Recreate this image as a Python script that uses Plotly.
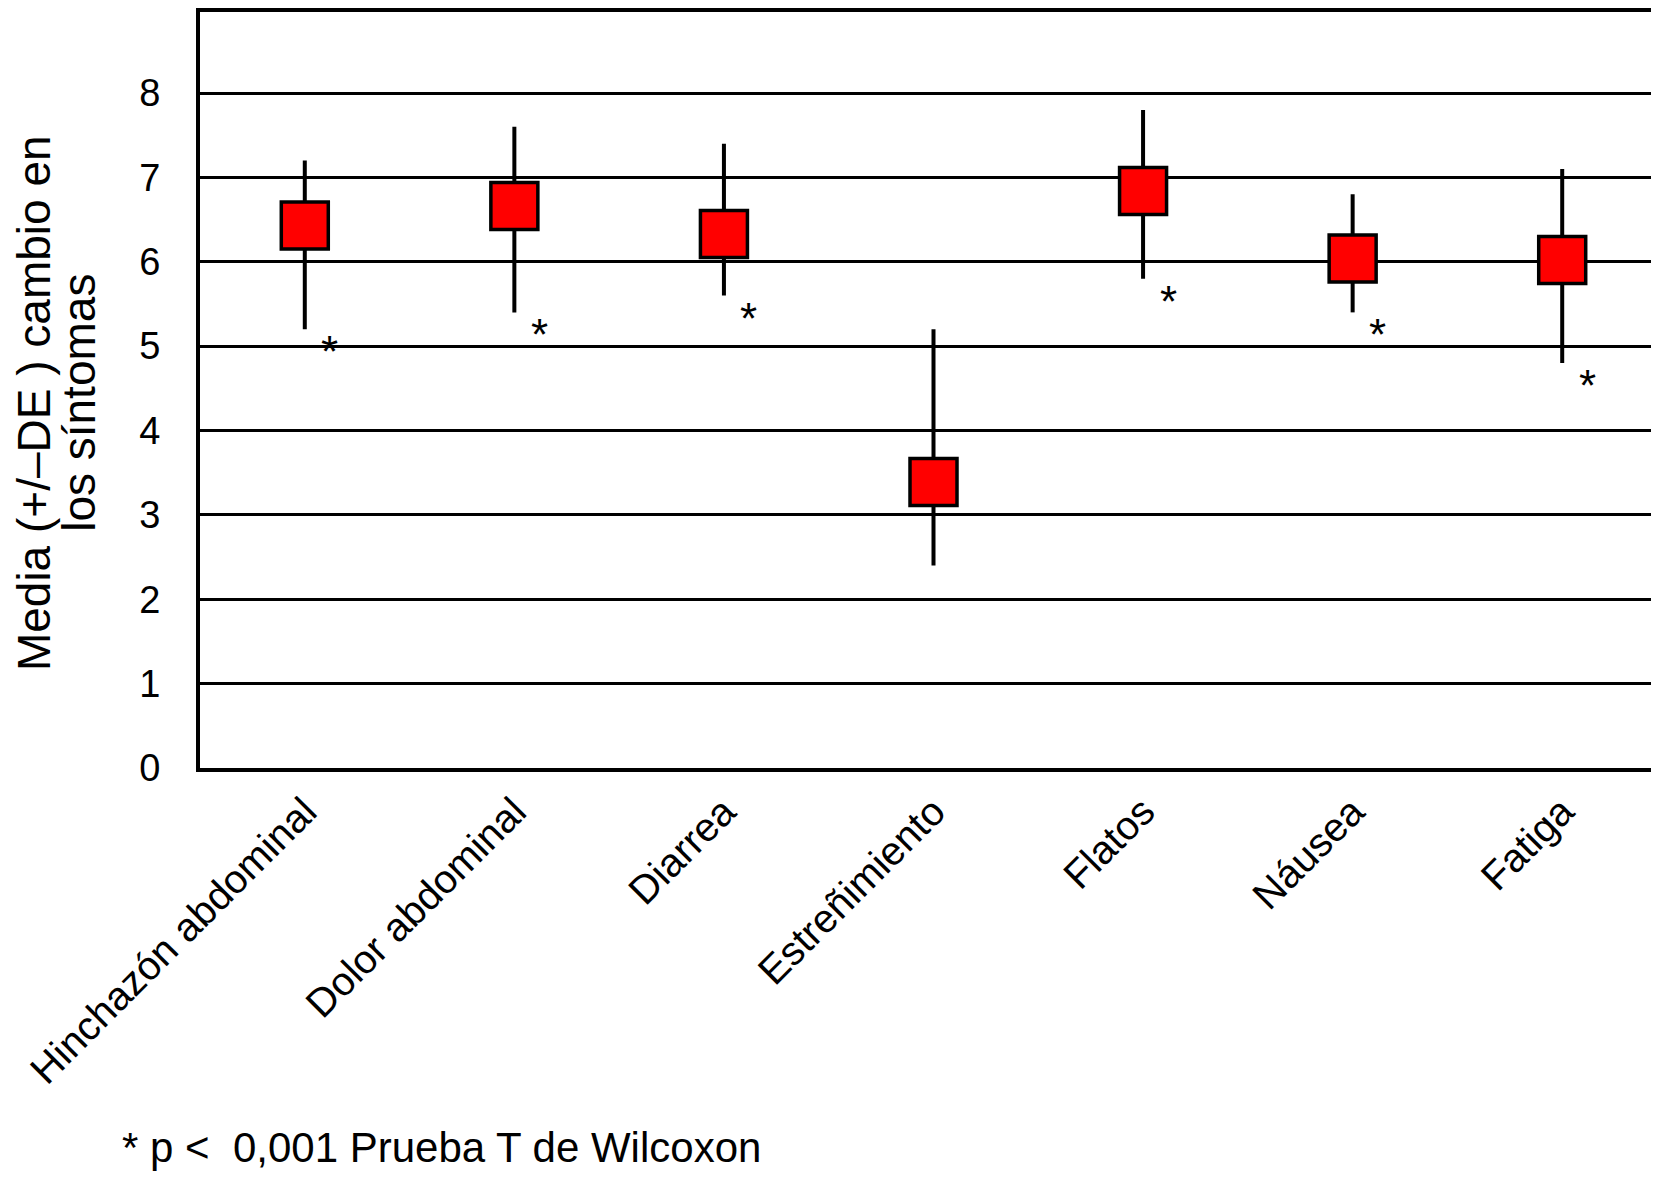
import plotly.graph_objects as go

categories = ["Hinchazón abdominal", "Dolor abdominal", "Diarrea", "Estreñimiento",
              "Flatos", "Náusea", "Fatiga"]
mean_change = [6.43, 6.66, 6.33, 3.39, 6.84, 6.04, 6.02]
upper_sd = [7.2, 7.6, 7.4, 5.2, 7.8, 6.8, 7.1]
lower_sd = [5.2, 5.4, 5.6, 2.4, 5.8, 5.4, 4.8]
significant = [True, True, True, False, True, True, True]
y_ticks = [0, 1, 2, 3, 4, 5, 6, 7, 8]

FONT = "Liberation Sans, Arial, Helvetica, sans-serif"

err_plus = [u - m for u, m in zip(upper_sd, mean_change)]
err_minus = [m - l for m, l in zip(mean_change, lower_sd)]

fig = go.Figure()
fig.add_trace(go.Scatter(
    x=categories, y=mean_change, mode="markers",
    marker=dict(symbol="square", size=47, color="#FF0000",
                line=dict(color="black", width=3.5)),
    error_y=dict(type="data", symmetric=False, array=err_plus, arrayminus=err_minus,
                 color="black", thickness=4, width=0),
    showlegend=False, hoverinfo="skip",
))

annotations = []
for cat, low, sig in zip(categories, lower_sd, significant):
    if sig:
        annotations.append(dict(x=cat, y=low, xref="x", yref="y", text="*",
                                showarrow=False, xanchor="center", yanchor="top",
                                xshift=25, yshift=4,
                                font=dict(family=FONT, size=44, color="black")))

annotations.append(dict(x=-0.1130, y=0.483, xref="paper", yref="paper",
                        text="Media (+/–DE ) cambio en", textangle=-90,
                        showarrow=False, xanchor="center", yanchor="middle",
                        font=dict(family=FONT, size=46, color="black")))
annotations.append(dict(x=-0.0825, y=0.483, xref="paper", yref="paper",
                        text="los síntomas", textangle=-90,
                        showarrow=False, xanchor="center", yanchor="middle",
                        font=dict(family=FONT, size=46, color="black")))
annotations.append(dict(x=-0.0545, y=-0.5026, xref="paper", yref="paper",
                        text="* p <  0,001 Prueba T de Wilcoxon",
                        showarrow=False, xanchor="left", yanchor="middle",
                        font=dict(family=FONT, size=42, color="black")))

fig.update_layout(
    width=1659, height=1189,
    margin=dict(l=192, r=0, t=0, b=429),
    paper_bgcolor="white", plot_bgcolor="white",
    font=dict(family=FONT, color="black"),
    annotations=annotations,
    xaxis=dict(
        type="category", range=[-0.5, 6.5],
        showline=True, linecolor="black", linewidth=4, mirror=True,
        showgrid=False, ticks="", tickangle=-45,
        tickfont=dict(family=FONT, size=40, color="black"),
        zeroline=False,
    ),
    yaxis=dict(
        range=[0, 8.96], tickvals=y_ticks, ticktext=[str(v) for v in y_ticks],
        showline=True, linecolor="black", linewidth=4, mirror=False,
        showgrid=True, gridcolor="black", gridwidth=3,
        zeroline=False, ticks="", ticklabelstandoff=28,
        tickfont=dict(family=FONT, size=38, color="black"),
    ),
)

fig.write_html("out.html")
